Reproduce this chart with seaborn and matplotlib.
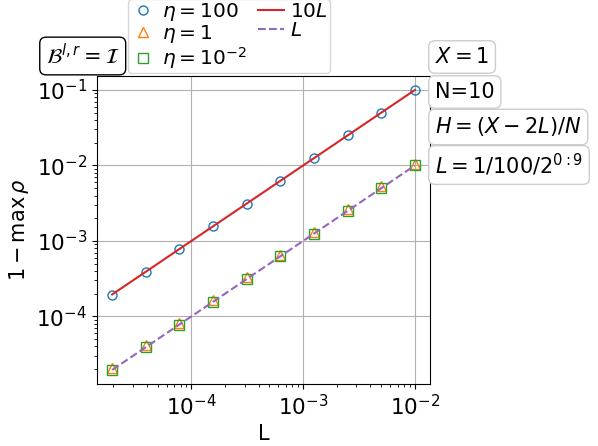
import matplotlib
matplotlib.use("Agg")
import matplotlib.pyplot as plt
import seaborn as sns

# L = 1/100/2^(0:9)
L_VALUES = [1.0e-2, 5.0e-3, 2.5e-3, 1.25e-3, 6.25e-4,
            3.125e-4, 1.5625e-4, 7.8125e-5, 3.90625e-5, 1.953125e-5]

# 1 - max rho
RHO_ETA_100 = [1.0e-1, 5.0e-2, 2.5e-2, 1.25e-2, 6.25e-3,
               3.125e-3, 1.5625e-3, 7.8e-4, 3.9e-4, 1.95e-4]
RHO_ETA_1 = [1.06e-2, 5.3e-3, 2.65e-3, 1.33e-3, 6.6e-4,
             3.3e-4, 1.66e-4, 8.3e-5, 4.15e-5, 2.07e-5]
RHO_ETA_001 = [1.0e-2, 5.0e-3, 2.5e-3, 1.25e-3, 6.25e-4,
               3.12e-4, 1.56e-4, 7.8e-5, 3.9e-5, 1.95e-5]

# reference lines
REF_10L = [1.0e-1, 5.0e-2, 2.5e-2, 1.25e-2, 6.25e-3,
           3.125e-3, 1.5625e-3, 7.8125e-4, 3.90625e-4, 1.953125e-4]
REF_L = [1.0e-2, 5.0e-3, 2.5e-3, 1.25e-3, 6.25e-4,
         3.125e-4, 1.5625e-4, 7.8125e-5, 3.90625e-5, 1.953125e-5]

MARKER_SERIES = [
    (r"$\eta=100$", RHO_ETA_100, "o", "C0"),
    (r"$\eta=1$", RHO_ETA_1, "^", "C1"),
    (r"$\eta=10^{-2}$", RHO_ETA_001, "s", "C2"),
]
LINE_SERIES = [
    (r"$10L$", REF_10L, "-", "C3"),
    (r"$L$", REF_L, "--", "C4"),
]

INFO_BOXES = [
    (r"$X=1$", 57),
    ("N=10", 92),
    (r"$H=(X-2L)/N$", 127),
    (r"$L=1/100/2^{0:9}$", 165),
]

W, H = 598, 446
FS = 15

fig = plt.figure(figsize=(W / 100, H / 100), dpi=100)
ax = fig.add_axes([97 / W, 1 - 384 / H, 333 / W, 308 / H])

for label, vals, marker, color in MARKER_SERIES:
    sns.lineplot(x=L_VALUES, y=vals, ax=ax, label=label, linestyle="none",
                 marker=marker, markersize=6.5, markerfacecolor="none",
                 markeredgecolor=color, markeredgewidth=1.0, color=color)

for label, vals, ls, color in LINE_SERIES:
    sns.lineplot(x=L_VALUES, y=vals, ax=ax, label=label, linestyle=ls,
                 color=color, linewidth=1.5)

ax.set_xscale("log")
ax.set_yscale("log")
ax.grid(True, which="major", color="#b0b0b0", linewidth=0.8)
ax.tick_params(axis="both", which="major", labelsize=15.5)
ax.set_xlabel("L", fontsize=FS)
ax.set_ylabel(r"$1-\max\,\rho$", fontsize=FS)

ax.legend(ncol=2, fontsize=14.5, loc="lower left",
          bbox_to_anchor=(128 / W, 1 - 73 / H), bbox_transform=fig.transFigure,
          borderaxespad=0, borderpad=0.1, handlelength=1.3, handletextpad=0.3,
          columnspacing=0.55, labelspacing=0.0)

box_style = dict(boxstyle="round,pad=0.3", fc="white", ec="0.8")
for text, yc in INFO_BOXES:
    fig.text(435 / W, 1 - yc / H, text, fontsize=FS, ha="left", va="center",
             bbox=box_style)

fig.text(46 / W, 1 - 56 / H, r"$\mathcal{B}^{l,r}=\mathcal{I}$", fontsize=FS,
         ha="left", va="center",
         bbox=dict(boxstyle="round,pad=0.3", fc="white", ec="black"))

fig.savefig("out.png", dpi=100)
